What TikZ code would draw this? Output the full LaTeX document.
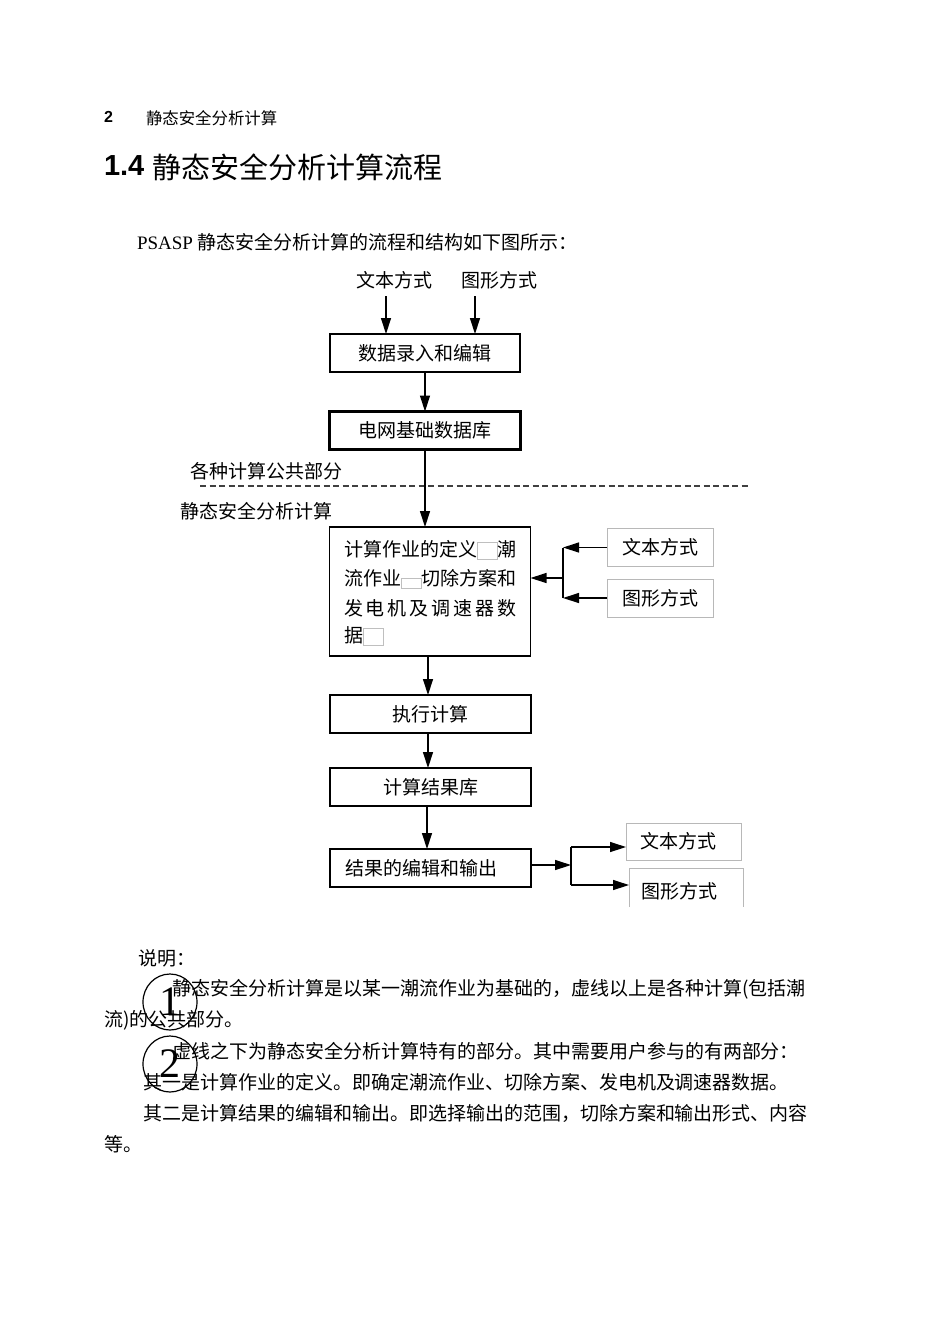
\documentclass[tikz,border=0pt]{standalone}
\usepackage{fontspec}
\setmainfont{Liberation Serif}
\newfontfamily\cjk{Noto Sans CJK SC}
\newfontfamily\hsans{Liberation Sans}
\usetikzlibrary{arrows.meta,shapes.geometric}
\newcommand\gbx[2]{{\fboxsep=0pt\fboxrule=0.8pt\color{black!25}\raisebox{-2pt}{\fbox{\vrule width 0pt height #2pt\hspace*{#1pt}}}}}
\tikzset{
  every node/.style={inner sep=0pt, outer sep=0pt},
  body/.style={font=\cjk\fontsize{19}{22}\selectfont, anchor=west},
  flowbox/.style={draw, line width=1.3pt, minimum width=201pt, minimum height=38pt, font=\cjk\fontsize{19}{22}\selectfont},
  thickbox/.style={flowbox, line width=2.6pt},
  sidebox/.style={draw=black!28, line width=1pt, minimum width=106pt, minimum height=38pt, font=\cjk\fontsize{19}{22}\selectfont},
  arr/.style={line width=1.3pt, -{Triangle[length=16pt,width=10pt]}},
  conn/.style={line width=1.3pt},
}
\begin{document}
\begin{tikzpicture}[x=1pt,y=-1pt]
\useasboundingbox (0,0) rectangle (950,1342);
% header
\node[anchor=west, font=\hsans\bfseries\fontsize{16}{18}\selectfont] (pg) at (104,117) {2};
\node[anchor=west, font=\cjk\fontsize{16.4}{18}\selectfont] (hd) at (146,118) {静态安全分析计算};
\node[anchor=west, font=\hsans\bfseries\fontsize{29}{32}\selectfont] (tnum) at (104,166) {1.4};
\node[anchor=west, font=\cjk\fontsize{29}{32}\selectfont] (ttl) at (152,167) {静态安全分析计算流程};
\node[body] (intro) at (137,242) {\rmfamily PSASP {\cjk 静态安全分析计算的流程和结构如下图所示：}};
% top inputs
\node[font=\cjk\fontsize{19}{22}\selectfont] (in1) at (394.5,280) {文本方式};
\node[font=\cjk\fontsize{19}{22}\selectfont] (in2) at (499.5,280) {图形方式};
\coordinate (a1) at (386,296);
\coordinate (a2) at (475,296);
% boxes
\node[flowbox, minimum width=190pt] (b1) at (425,353) {\raisebox{-2pt}{数据录入和编辑}};
\node[thickbox, minimum width=191pt] (b2) at (425,430.5) {\raisebox{-2pt}{电网基础数据库}};
\node[flowbox, minimum height=129pt] (b3) at (430,591.5) {};
\node[flowbox] (b4) at (430.5,714) {\raisebox{-2pt}{执行计算}};
\node[flowbox] (b5) at (430.5,787) {\raisebox{-2pt}{计算结果库}};
\node[flowbox] (b6) at (430.5,868) {\raisebox{-2pt}{结果的编辑和输出}\hspace*{18pt}};
\draw[line width=2.6pt] (b5.south west) -- (b5.north west) -- (b5.north east);
% box 3 text
\node[body] (l31) at (344,550) {计算作业的定义\gbx{19}{16}潮};
\node[body] (l32) at (344,579) {流作业{\fboxsep=0pt\fboxrule=0.8pt\color{black!25}\raisebox{-2pt}{\fbox{\vrule width 0pt height 9pt\hspace*{19pt}}}}切除方案和};
\node[body] (l33) at (344,608) {\makebox[173pt][s]{发\hfil 电\hfil 机\hfil 及\hfil 调\hfil 速\hfil 器\hfil 数}};
\node[body] (l34) at (344,636) {据\gbx{19}{16}};
% section labels
\node[body] (lab1) at (190,471) {各种计算公共部分};
\node[body] (lab2) at (180,511) {静态安全分析计算};
\coordinate (d1) at (200,486);
\coordinate (d2) at (750,486);
\draw[line width=1.5pt, black!75, dash pattern=on 6pt off 3.5pt] (d1) -- (d2);
% side inputs
\node[sidebox] (ra1) at (660,547.5) {\raisebox{-2pt}{文本方式}};
\node[sidebox] (ra2) at (660,598) {\raisebox{-2pt}{图形方式}};
\coordinate (j1) at (563,578);
% outputs
\node[sidebox, minimum width=115pt, minimum height=37pt] (rb1) at (683.5,841.5) {\hspace*{-10pt}\raisebox{-2pt}{文本方式}};
\node[minimum width=114pt, minimum height=39pt] (rb2) at (686,887.5) {};
\node[font=\cjk\fontsize{19}{22}\selectfont] (rb2t) at (679,891) {图形方式};
\draw[black!28, line width=1pt] (rb2.south west) -- (rb2.north west) -- (rb2.north east) -- (rb2.south east);
\coordinate (j2) at (571,865);
\coordinate (k1) at (571,847);
\coordinate (k2) at (571,885);
% connectors
\draw[arr] (a1) -- (a1 |- b1.north);
\draw[arr] (a2) -- (a2 |- b1.north);
\draw[arr] (b1.south) -- (b2.north);
\draw[arr] (b2.south) -- (b2.south |- b3.north);
\draw[arr] (b3.south -| 428,0) -- (b4.north -| 428,0);
\draw[arr] (b4.south -| 428,0) -- (b5.north -| 428,0);
\draw[arr] (b5.south -| 427,0) -- (b6.north -| 427,0);
\draw[arr] (ra1.west) -- (ra1.west -| j1);
\draw[arr] (ra2.west) -- (ra2.west -| j1);
\draw[conn] (ra1.west -| j1) -- (ra2.west -| j1);
\draw[arr] (j1) -- (j1 -| b3.east);
\draw[arr] (b6.east |- j2) -- (j2);
\draw[line width=2.6pt] (k1) -- (k2);
\draw[arr] (k1) -- (k1 -| rb1.west);
\draw[arr] (k2) -- (k2 -| rb2.west);
% description
\node[body] (sm) at (138,958) {说明：};
\node[body] (p1) at (172,989) {\makebox[643pt][s]{静态安全分析计算是以某一潮流作业为基础的，虚线以上是各种计算(包括潮}};
\node[body] (p2) at (104,1020) {流)的公共部分。};
\node[body] (p3) at (172,1051) {虚线之下为静态安全分析计算特有的部分。其中需要用户参与的有两部分：};
\node[body] (p4) at (143,1082) {其一是计算作业的定义。即确定潮流作业、切除方案、发电机及调速器数据。};
\node[body] (p5) at (143,1113) {\makebox[672pt][s]{其二是计算结果的编辑和输出。即选择输出的范围，切除方案和输出形式、内容}};
\node[body] (p6) at (104,1144) {等。};
\node[ellipse, draw, line width=1.2pt, minimum width=54pt, minimum height=56pt, font=\rmfamily\fontsize{42}{44}\selectfont] (c1) at (170,1002) {1};
\node[ellipse, draw, line width=1.2pt, minimum width=54pt, minimum height=56pt, font=\rmfamily\fontsize{42}{44}\selectfont] (c2) at (170,1064) {2};
\end{tikzpicture}
\end{document}
